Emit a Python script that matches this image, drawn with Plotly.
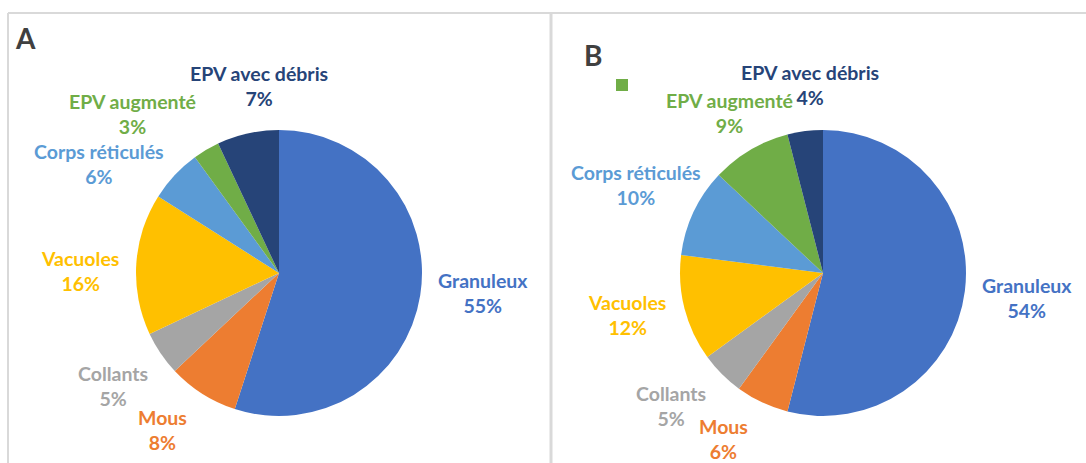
import plotly.graph_objects as go

W, H = 1086, 463

categories = ["Granuleux", "Mous", "Collants", "Vacuoles", "Corps réticulés",
              "EPV augmenté", "EPV avec débris"]
values_a = [55, 8, 5, 16, 6, 3, 7]
values_b = [54, 6, 5, 12, 10, 9, 4]
colors = ["#4472C4", "#ED7D31", "#A5A5A5", "#FFC000", "#5B9BD5", "#70AD47", "#264478"]

# label centres in pixels (layout only)
label_pos_a = [(483, 293), (162, 430), (113, 386), (80, 271), (99, 164), (132, 114), (259, 86)]
label_pos_b = [(1027, 298), (723, 439), (671, 406), (627, 315), (636, 185), (729, 113), (810, 85)]

def px_x(x):
    return x / W

def px_y(y):
    return 1 - y / H

FONT = "Lato, Carlito, Calibri, sans-serif"

fig = go.Figure()
fig.add_trace(go.Pie(
    labels=categories, values=values_a, sort=False, direction="clockwise", rotation=0,
    marker=dict(colors=colors, line=dict(width=0)), textinfo="none", hoverinfo="label+percent",
    domain=dict(x=[px_x(136), px_x(422)], y=[px_y(416), px_y(130)]), showlegend=False,
))
fig.add_trace(go.Pie(
    labels=categories, values=values_b, sort=False, direction="clockwise", rotation=0,
    marker=dict(colors=colors, line=dict(width=0)), textinfo="none", hoverinfo="label+percent",
    domain=dict(x=[px_x(680), px_x(966)], y=[px_y(416), px_y(130)]), showlegend=False,
))

annotations = []
for vals, pos in ((values_a, label_pos_a), (values_b, label_pos_b)):
    total = sum(vals)
    for cat, v, c, (x, y) in zip(categories, vals, colors, pos):
        pct = round(100 * v / total)
        annotations.append(dict(
            x=px_x(x), y=px_y(y), xref="paper", yref="paper",
            text=f"<b>{cat}</b><br><b>{pct}%</b>", showarrow=False,
            font=dict(family=FONT, size=19.5, color=c), align="center",
            xanchor="center", yanchor="middle",
        ))

annotations.append(dict(x=px_x(25), y=px_y(38), xref="paper", yref="paper", text="<b>A</b>",
                        showarrow=False, font=dict(family=FONT, size=28, color="#404040"),
                        xanchor="center", yanchor="middle"))
annotations.append(dict(x=px_x(593), y=px_y(55), xref="paper", yref="paper", text="<b>B</b>",
                        showarrow=False, font=dict(family=FONT, size=28, color="#404040"),
                        xanchor="center", yanchor="middle"))

shapes = [
    # panel borders
    dict(type="line", xref="paper", yref="paper", x0=px_x(8), x1=1, y0=px_y(13), y1=px_y(13),
         line=dict(color="#D9D9D9", width=2)),
    dict(type="line", xref="paper", yref="paper", x0=px_x(8), x1=px_x(8), y0=px_y(13), y1=0,
         line=dict(color="#D9D9D9", width=2)),
    dict(type="line", xref="paper", yref="paper", x0=px_x(551), x1=px_x(551), y0=px_y(13), y1=0,
         line=dict(color="#D9D9D9", width=3)),
    # stray legend marker in panel B
    dict(type="rect", xref="paper", yref="paper", x0=px_x(616), x1=px_x(628), y0=px_y(91), y1=px_y(79),
         fillcolor="#70AD47", line=dict(width=0)),
]

fig.update_layout(
    width=W, height=H, margin=dict(l=0, r=0, t=0, b=0),
    paper_bgcolor="white", plot_bgcolor="white",
    annotations=annotations, shapes=shapes,
)

fig.write_html("out.html", config={"displayModeBar": False},
               post_script="document.body.style.margin='0';document.body.style.overflow='hidden';")
